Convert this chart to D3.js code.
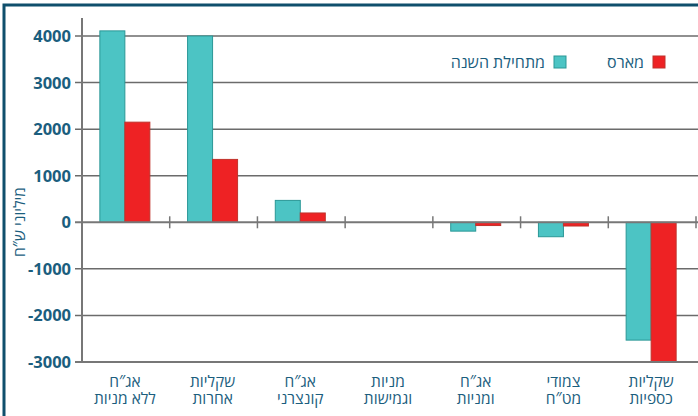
<!DOCTYPE html>
<html>
<head>
<meta charset="utf-8">
<script src="https://cdn.jsdelivr.net/npm/d3@7"></script>
<style>
  body { margin: 0; background: #fff; }
  svg { display: block; font-family: "Open Sans", "Noto Sans", sans-serif; }
</style>
</head>
<body>
<svg id="chart"></svg>
<script>
// categories, left to right as in the picture (two label lines each)
const categories = ["c1", "c2", "c3", "c4", "c5", "c6", "c7"]
const catLines = [
  ["אג\u2033ח", "ללא מניות"],
  ["שקליות", "אחרות"],
  ["אג\u2033ח", "קונצרני"],
  ["מניות", "וגמישות"],
  ["אג\u2033ח", "ומניות"],
  ["צמודי", "מט\u2033ח"],
  ["שקליות", "כספיות"]
]
const sinceYearStart = [4110, 4000, 470, 0, -190, -310, -2530]
const march = [2150, 1350, 200, 0, -70, -80, -3010]
const yTicks = [4000, 3000, 2000, 1000, 0, -1000, -2000, -3000]
const seriesNames = ["מתחילת השנה", "מארס"]

const width = 698, height = 416
const blue = "#1b5e7e", teal = "#4cc4c4", red = "#ee2224"

const svg = d3.select("#chart").attr("width", width).attr("height", height)

// frame
svg.append("rect")
   .attr("x", 4).attr("y", 5)
   .attr("width", width + 10).attr("height", height + 10)
   .attr("fill", "none")
   .attr("stroke", "#0f4f6c")
   .attr("stroke-width", 3)

const x0 = 82, x1 = 696
const x = d3.scaleBand().domain(categories).range([x0, x1])
const y = d3.scaleLinear().domain([-3000, 4000]).range([362, 36])

// gridlines
svg.append("g").selectAll("line")
   .data(yTicks.filter(d => d !== 0 && d !== -3000))
   .join("line")
   .attr("x1", 75).attr("x2", x1 + 2)
   .attr("y1", d => y(d)).attr("y2", d => y(d))
   .attr("stroke", "#6b6b6b").attr("stroke-width", 1.5)

// tick labels
svg.append("g").selectAll("text")
   .data(yTicks)
   .join("text")
   .attr("x", 71)
   .attr("y", d => y(d) + 6)
   .attr("text-anchor", "end")
   .attr("font-size", 16.5)
   .attr("font-weight", "bold")
   .attr("fill", blue)
   .text(d => d)

// bars
const bw = 25
const bars = svg.append("g")
categories.forEach((c, i) => {
  const cx = x(c) + x.bandwidth() / 2 - 1
  const vals = [sinceYearStart[i], march[i]]
  const fills = [teal, red], strokes = ["#2a9796", "#c0332c"]
  vals.forEach((v, j) => {
    if (v === 0) return
    bars.append("rect")
        .attr("x", cx - bw + j * bw)
        .attr("y", y(Math.max(0, v)))
        .attr("width", bw)
        .attr("height", Math.abs(y(v) - y(0)))
        .attr("fill", fills[j])
        .attr("stroke", strokes[j])
        .attr("stroke-width", 1)
  })
})

// zero line, bottom line, y axis
svg.append("line")
   .attr("x1", 75).attr("x2", x1 + 2)
   .attr("y1", y(0)).attr("y2", y(0))
   .attr("stroke", "#777").attr("stroke-width", 2)
svg.append("line")
   .attr("x1", 75).attr("x2", x1 + 2)
   .attr("y1", y(-3000)).attr("y2", y(-3000))
   .attr("stroke", "#777").attr("stroke-width", 2)
svg.append("line")
   .attr("x1", x0).attr("x2", x0)
   .attr("y1", 18).attr("y2", y(-3000))
   .attr("stroke", "#777").attr("stroke-width", 2)

// category separators on zero line
svg.append("g").selectAll("line")
   .data(categories)
   .join("line")
   .attr("x1", d => x(d) + x.bandwidth()).attr("x2", d => x(d) + x.bandwidth())
   .attr("y1", y(0) - 6).attr("y2", y(0) + 6)
   .attr("stroke", "#777").attr("stroke-width", 1.5)

// category labels, one text with two lines
const labels = svg.append("g").selectAll("text")
   .data(categories)
   .join("text")
   .attr("text-anchor", "middle")
   .attr("direction", "rtl")
   .attr("font-size", 15.5)
   .attr("fill", blue)
labels.each(function(c, i) {
  const cx = x(c) + x.bandwidth() / 2 - 1
  catLines[i].forEach((t, k) => {
    d3.select(this).append("tspan")
      .attr("x", cx).attr("y", 387 + k * 16.5)
      .text(t)
  })
})

// y axis title
svg.append("text")
   .attr("transform", "translate(25,222) rotate(-90)")
   .attr("text-anchor", "middle")
   .attr("direction", "rtl")
   .attr("font-size", 15.5)
   .attr("fill", blue)
   .text("מיליוני ש\u2033ח")

// legend
const legend = [
  {name: seriesNames[1], color: red, stroke: "#c0332c", sx: 653, tx: 644},
  {name: seriesNames[0], color: teal, stroke: "#2a9796", sx: 554, tx: 545}
]
legend.forEach(l => {
  svg.append("rect")
     .attr("x", l.sx).attr("y", 56)
     .attr("width", 12).attr("height", 12)
     .attr("fill", l.color).attr("stroke", l.stroke)
  svg.append("text")
     .attr("x", l.tx).attr("y", 68)
     .attr("text-anchor", "start")
     .attr("direction", "rtl")
     .attr("font-size", 16)
     .attr("fill", blue)
     .text(l.name)
})
</script>
</body>
</html>
